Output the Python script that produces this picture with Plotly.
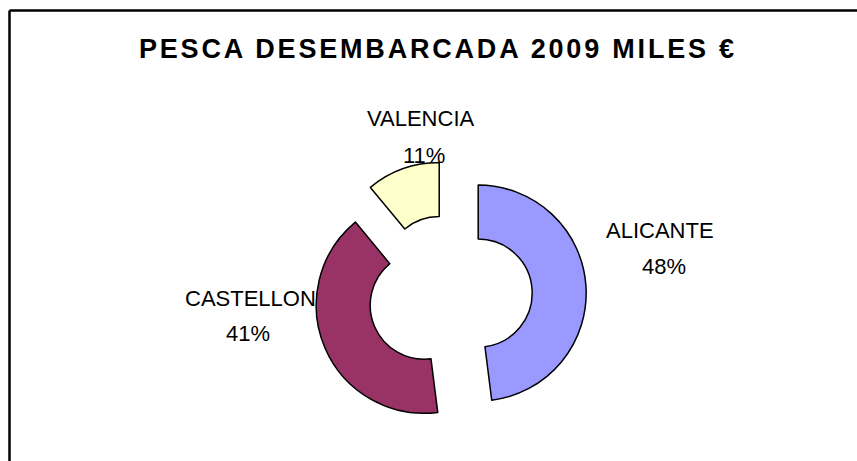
import plotly.graph_objects as go

# ---- data ----
regions = ["ALICANTE", "CASTELLON", "VALENCIA"]
values = [48, 41, 11]
colors = ["#9999FF", "#993366", "#FFFFCC"]
pulls = [0.28, 0.24, 0.24]
title_text = "PESCA DESEMBARCADA 2009 MILES €"

W, H = 857, 461
cx, cy = 448, 295          # pixel centre of the (unexploded) ring
R = 108                    # outer radius in px
hb = R * (1 + max(pulls))

fig = go.Figure(go.Pie(
    labels=regions,
    values=values,
    marker=dict(colors=colors, line=dict(color="black", width=1.5)),
    hole=0.5,
    pull=pulls,
    sort=False,
    direction="clockwise",
    rotation=0,
    textinfo="none",
    hoverinfo="label+percent",
    showlegend=False,
    domain=dict(x=[(cx - hb) / W, (cx + hb) / W],
                y=[(H - cy - hb) / H, (H - cy + hb) / H]),
))

# label positions (px) for name and percent lines
label_pos = {
    "ALICANTE": ((660, 230), (664, 266)),
    "CASTELLON": ((250, 298), (248, 333)),
    "VALENCIA": ((421, 118), (424, 155)),
}
total = sum(values)
font_lbl = dict(family="Liberation Sans, Arial", size=22, color="black")
annotations = []
for name, v in zip(regions, values):
    (nx, ny), (px, py) = label_pos[name]
    pct = round(100 * v / total)
    annotations.append(dict(x=nx / W, y=1 - ny / H, xref="paper", yref="paper",
                            text=name, showarrow=False, xanchor="center", yanchor="middle",
                            font=font_lbl))
    annotations.append(dict(x=px / W, y=1 - py / H, xref="paper", yref="paper",
                            text=f"{pct}%", showarrow=False, xanchor="center", yanchor="middle",
                            font=font_lbl))

annotations.append(dict(x=438 / W, y=1 - 49 / H, xref="paper", yref="paper",
                        text=f'<span style="letter-spacing:2.8px"><b>{title_text}</b></span>',
                        showarrow=False, xanchor="center", yanchor="middle",
                        font=dict(family="Liberation Sans, Arial", size=27, color="black")))

bx, by = 9.5, 10.5
shapes = [
    dict(type="line", xref="paper", yref="paper", x0=bx / W, x1=bx / W, y0=0, y1=1 - by / H,
         line=dict(color="black", width=2.5)),
    dict(type="line", xref="paper", yref="paper", x0=bx / W, x1=1, y0=1 - by / H, y1=1 - by / H,
         line=dict(color="black", width=2.5)),
]

fig.update_layout(
    width=W, height=H,
    margin=dict(l=0, r=0, t=0, b=0),
    paper_bgcolor="white", plot_bgcolor="white",
    annotations=annotations,
    shapes=shapes,
)

fig.write_html("out.html",
               config={"displayModeBar": False},
               post_script="document.body.style.margin='0';document.body.style.overflow='hidden';")
